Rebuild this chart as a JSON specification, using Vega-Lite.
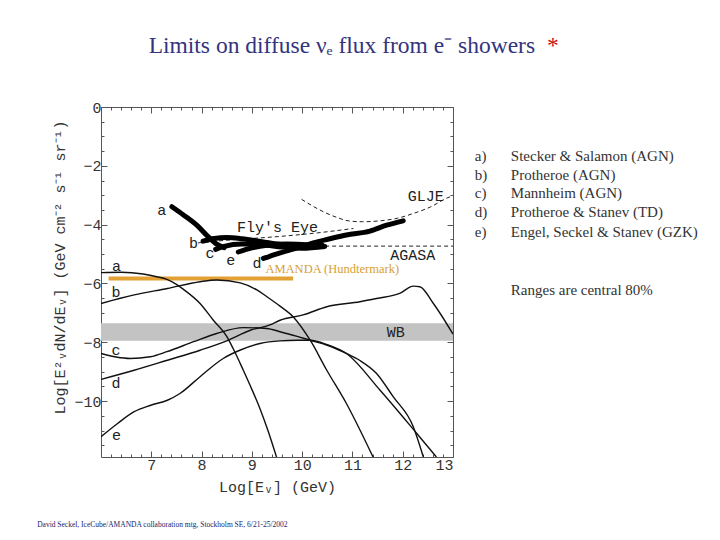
{
  "$schema": "https://vega.github.io/schema/vega-lite/v6.json",
  "width": 352,
  "height": 350,
  "autosize": {"type": "none"},
  "padding": {"left": 101, "top": 107, "right": 267, "bottom": 83},
  "background": "white",
  "config": {
    "view": {"stroke": null},
    "axis": {
      "grid": false,
      "domainColor": "#555555",
      "domainWidth": 1,
      "tickColor": "#555555",
      "tickWidth": 1,
      "labelFont": "Liberation Mono",
      "labelFontSize": 15,
      "labelColor": "#333333",
      "titleFont": "Liberation Mono",
      "titleFontSize": 15,
      "titleFontWeight": "normal",
      "titleColor": "#333333"
    }
  },
  "datasets": {
    "band": [{"x": 6, "x2": 13, "y": -7.35, "y2": -7.95}],
    "amanda": [{"x": 6.15, "y": -5.83}, {"x": 9.82, "y": -5.83}],
    "thin": [
      {"model": "a", "x": 6.0, "y": -5.63}, {"model": "a", "x": 6.4, "y": -5.62}, {"model": "a", "x": 6.84, "y": -5.68}, {"model": "a", "x": 7.11, "y": -5.77}, {"model": "a", "x": 7.31, "y": -5.86}, {"model": "a", "x": 7.5, "y": -6.03}, {"model": "a", "x": 7.64, "y": -6.2}, {"model": "a", "x": 7.97, "y": -6.68}, {"model": "a", "x": 8.23, "y": -7.24}, {"model": "a", "x": 8.5, "y": -7.8}, {"model": "a", "x": 8.63, "y": -8.22}, {"model": "a", "x": 8.83, "y": -8.95}, {"model": "a", "x": 9.0, "y": -9.6}, {"model": "a", "x": 9.16, "y": -10.25}, {"model": "a", "x": 9.32, "y": -11.0}, {"model": "a", "x": 9.49, "y": -11.9},
      {"model": "b", "x": 6.0, "y": -6.68}, {"model": "b", "x": 6.66, "y": -6.39}, {"model": "b", "x": 7.32, "y": -6.17}, {"model": "b", "x": 7.97, "y": -5.94}, {"model": "b", "x": 8.3, "y": -5.88}, {"model": "b", "x": 8.77, "y": -5.98}, {"model": "b", "x": 9.1, "y": -6.22}, {"model": "b", "x": 9.3, "y": -6.45}, {"model": "b", "x": 9.56, "y": -6.77}, {"model": "b", "x": 9.82, "y": -7.13}, {"model": "b", "x": 10.16, "y": -7.93}, {"model": "b", "x": 10.49, "y": -8.95}, {"model": "b", "x": 10.88, "y": -10.08}, {"model": "b", "x": 11.41, "y": -11.9},
      {"model": "c", "x": 6.0, "y": -8.38}, {"model": "c", "x": 6.3, "y": -8.5}, {"model": "c", "x": 6.58, "y": -8.55}, {"model": "c", "x": 6.98, "y": -8.49}, {"model": "c", "x": 7.31, "y": -8.32}, {"model": "c", "x": 7.84, "y": -7.98}, {"model": "c", "x": 8.3, "y": -7.7}, {"model": "c", "x": 8.83, "y": -7.5}, {"model": "c", "x": 9.3, "y": -7.53}, {"model": "c", "x": 9.56, "y": -7.64}, {"model": "c", "x": 9.9, "y": -7.8}, {"model": "c", "x": 10.16, "y": -7.93}, {"model": "c", "x": 10.5, "y": -8.1}, {"model": "c", "x": 10.88, "y": -8.38}, {"model": "c", "x": 11.15, "y": -8.62}, {"model": "c", "x": 11.48, "y": -9.06}, {"model": "c", "x": 11.81, "y": -9.85}, {"model": "c", "x": 12.21, "y": -10.87}, {"model": "c", "x": 12.41, "y": -11.9},
      {"model": "d", "x": 6.0, "y": -9.26}, {"model": "d", "x": 6.66, "y": -8.95}, {"model": "d", "x": 7.32, "y": -8.61}, {"model": "d", "x": 7.97, "y": -8.27}, {"model": "d", "x": 8.5, "y": -7.95}, {"model": "d", "x": 8.97, "y": -7.59}, {"model": "d", "x": 9.36, "y": -7.41}, {"model": "d", "x": 9.56, "y": -7.25}, {"model": "d", "x": 10.02, "y": -7.07}, {"model": "d", "x": 10.49, "y": -6.79}, {"model": "d", "x": 11.15, "y": -6.62}, {"model": "d", "x": 11.48, "y": -6.51}, {"model": "d", "x": 11.94, "y": -6.34}, {"model": "d", "x": 12.21, "y": -6.09}, {"model": "d", "x": 12.34, "y": -6.11}, {"model": "d", "x": 12.61, "y": -6.68}, {"model": "d", "x": 13.0, "y": -7.72},
      {"model": "e", "x": 6.0, "y": -11.21}, {"model": "e", "x": 6.33, "y": -10.76}, {"model": "e", "x": 6.66, "y": -10.36}, {"model": "e", "x": 6.99, "y": -10.14}, {"model": "e", "x": 7.32, "y": -9.97}, {"model": "e", "x": 7.57, "y": -9.74}, {"model": "e", "x": 7.97, "y": -9.17}, {"model": "e", "x": 8.43, "y": -8.55}, {"model": "e", "x": 8.76, "y": -8.27}, {"model": "e", "x": 9.16, "y": -8.04}, {"model": "e", "x": 9.56, "y": -7.95}, {"model": "e", "x": 9.9, "y": -7.93}, {"model": "e", "x": 10.16, "y": -7.93}, {"model": "e", "x": 10.5, "y": -8.08}, {"model": "e", "x": 10.88, "y": -8.38}, {"model": "e", "x": 11.55, "y": -9.63}, {"model": "e", "x": 12.28, "y": -11.1}, {"model": "e", "x": 12.67, "y": -11.9}
    ],
    "thick": [
      {"model": "a", "x": 7.41, "y": -3.39}, {"model": "a", "x": 7.64, "y": -3.67}, {"model": "a", "x": 7.9, "y": -4.01}, {"model": "a", "x": 8.13, "y": -4.41}, {"model": "a", "x": 8.3, "y": -4.66}, {"model": "a", "x": 8.45, "y": -4.78},
      {"model": "b", "x": 8.03, "y": -4.56}, {"model": "b", "x": 8.25, "y": -4.47}, {"model": "b", "x": 8.5, "y": -4.44}, {"model": "b", "x": 8.8, "y": -4.48}, {"model": "b", "x": 9.2, "y": -4.58}, {"model": "b", "x": 9.6, "y": -4.68}, {"model": "b", "x": 10.0, "y": -4.72}, {"model": "b", "x": 10.4, "y": -4.7},
      {"model": "c", "x": 8.28, "y": -4.84}, {"model": "c", "x": 8.45, "y": -4.74}, {"model": "c", "x": 8.8, "y": -4.66}, {"model": "c", "x": 9.2, "y": -4.68}, {"model": "c", "x": 9.6, "y": -4.76}, {"model": "c", "x": 10.0, "y": -4.8}, {"model": "c", "x": 10.45, "y": -4.74},
      {"model": "e", "x": 8.73, "y": -4.93}, {"model": "e", "x": 9.0, "y": -4.79}, {"model": "e", "x": 9.3, "y": -4.7}, {"model": "e", "x": 9.7, "y": -4.66}, {"model": "e", "x": 10.1, "y": -4.68}, {"model": "e", "x": 10.4, "y": -4.72},
      {"model": "d", "x": 9.23, "y": -5.15}, {"model": "d", "x": 9.5, "y": -4.99}, {"model": "d", "x": 9.76, "y": -4.86}, {"model": "d", "x": 10.0, "y": -4.75}, {"model": "d", "x": 10.22, "y": -4.62}, {"model": "d", "x": 10.55, "y": -4.48}, {"model": "d", "x": 10.88, "y": -4.35}, {"model": "d", "x": 11.35, "y": -4.22}, {"model": "d", "x": 11.68, "y": -4.02}, {"model": "d", "x": 12.01, "y": -3.87}
    ],
    "dashed": [
      {"set": "Fly's Eye", "x": 7.93, "y": -4.62}, {"set": "Fly's Eye", "x": 8.5, "y": -4.53}, {"set": "Fly's Eye", "x": 9.56, "y": -4.4}, {"set": "Fly's Eye", "x": 10.3, "y": -4.28}, {"set": "Fly's Eye", "x": 11.02, "y": -4.13},
      {"set": "GLJE", "x": 9.99, "y": -3.14}, {"set": "GLJE", "x": 10.42, "y": -3.56}, {"set": "GLJE", "x": 10.7, "y": -3.76}, {"set": "GLJE", "x": 10.95, "y": -3.88}, {"set": "GLJE", "x": 11.2, "y": -3.9}, {"set": "GLJE", "x": 11.55, "y": -3.87}, {"set": "GLJE", "x": 11.9, "y": -3.78}, {"set": "GLJE", "x": 12.21, "y": -3.62}, {"set": "GLJE", "x": 12.55, "y": -3.4}, {"set": "GLJE", "x": 12.9, "y": -3.08}, {"set": "GLJE", "x": 13.0, "y": -3.02},
      {"set": "AGASA", "x": 9.9, "y": -4.73}, {"set": "AGASA", "x": 13.0, "y": -4.73}
    ],
    "monolabels": [
      {"label": "a", "x": 6.31, "y": -5.41}, {"label": "b", "x": 6.3, "y": -6.28}, {"label": "c", "x": 6.3, "y": -8.27}, {"label": "d", "x": 6.3, "y": -9.38}, {"label": "e", "x": 6.31, "y": -11.16},
      {"label": "a", "x": 7.21, "y": -3.5}, {"label": "b", "x": 7.84, "y": -4.64}, {"label": "c", "x": 8.17, "y": -4.98}, {"label": "e", "x": 8.58, "y": -5.2}, {"label": "d", "x": 9.1, "y": -5.32},
      {"label": "Fly's Eye", "x": 9.51, "y": -4.07}, {"label": "GLJE", "x": 12.46, "y": -3.03}, {"label": "AGASA", "x": 12.2, "y": -5.02}, {"label": "WB", "x": 11.86, "y": -7.65}
    ],
    "legendkeys": [
      {"key": "a)", "name": "Stecker & Salamon (AGN)", "y": -1.67},
      {"key": "b)", "name": "Protheroe (AGN)", "y": -2.31},
      {"key": "c)", "name": "Mannheim (AGN)", "y": -2.93},
      {"key": "d)", "name": "Protheroe & Stanev (TD)", "y": -3.57},
      {"key": "e)", "name": "Engel, Seckel & Stanev (GZK)", "y": -4.25}
    ],
    "notes": [
      {"text": "Ranges are central 80%", "x": 14.15, "y": -6.22}
    ],
    "amandatext": [{"text": "AMANDA (Hundtermark)", "x": 9.27, "y": -5.63}],
    "title": [{"text": "Limits on diffuse νₑ flux from e⁻ showers", "x": 10.79, "y": 1.84}],
    "star": [{"text": "*", "x": 14.87, "y": 1.84}],
    "footer": [{"text": "David Seckel, IceCube/AMANDA collaboration mtg, Stockholm SE, 6/21-25/2002", "x": 4.73, "y": -14.2}]
  },
  "layer": [
    {
      "data": {"name": "band"},
      "mark": {"type": "rect", "color": "#c3c3c3"},
      "encoding": {
        "x": {"field": "x", "type": "quantitative", "scale": {"domain": [6, 13], "nice": false, "zero": false},
              "axis": {"orient": "bottom", "values": [7, 8, 9, 10, 11, 12, 13], "format": "d", "tickSize": -6, "labelPadding": 6, "title": "Log[Eᵥ]   (GeV)", "titlePadding": 7}},
        "x2": {"field": "x2"},
        "y": {"field": "y", "type": "quantitative", "scale": {"domain": [-11.9, 0], "nice": false, "zero": false},
              "axis": {"orient": "left", "values": [0, -2, -4, -6, -8, -10], "format": "d", "tickSize": -6, "labelPadding": 6, "title": "Log[E²ᵥdN/dEᵥ]   (GeV cm⁻² s⁻¹ sr⁻¹)", "titlePadding": 6, "titleY": 160}},
        "y2": {"field": "y2"}
      }
    },
    {
      "data": {"name": "amanda"},
      "mark": {"type": "line", "color": "#e3a035", "strokeWidth": 4},
      "encoding": {
        "x": {"field": "x", "type": "quantitative",
              "axis": {"orient": "bottom", "values": [6.2, 6.4, 6.6, 6.8, 7.2, 7.4, 7.6, 7.8, 8.2, 8.4, 8.6, 8.8, 9.2, 9.4, 9.6, 9.8, 10.2, 10.4, 10.6, 10.8, 11.2, 11.4, 11.6, 11.8, 12.2, 12.4, 12.6, 12.8], "labels": false, "tickSize": -3, "domain": false, "title": null}},
        "y": {"field": "y", "type": "quantitative",
              "axis": {"orient": "left", "values": [-0.5, -1, -1.5, -2.5, -3, -3.5, -4.5, -5, -5.5, -6.5, -7, -7.5, -8.5, -9, -9.5, -10.5, -11, -11.5], "labels": false, "tickSize": -3, "domain": false, "title": null}}
      }
    },
    {
      "data": {"name": "thin"},
      "mark": {"type": "line", "color": "#111111", "strokeWidth": 1.4, "interpolate": "monotone", "clip": true},
      "encoding": {
        "x": {"field": "x", "type": "quantitative",
              "axis": {"orient": "top", "values": [7, 8, 9, 10, 11, 12, 13], "labels": false, "tickSize": -6, "title": null}},
        "y": {"field": "y", "type": "quantitative",
              "axis": {"orient": "right", "values": [0, -2, -4, -6, -8, -10], "labels": false, "tickSize": -6, "title": null}},
        "detail": {"field": "model"}
      }
    },
    {
      "data": {"name": "dashed"},
      "mark": {"type": "line", "color": "#222222", "strokeWidth": 1, "strokeDash": [4, 3], "interpolate": "monotone"},
      "encoding": {
        "x": {"field": "x", "type": "quantitative",
              "axis": {"orient": "top", "values": [6.2, 6.4, 6.6, 6.8, 7.2, 7.4, 7.6, 7.8, 8.2, 8.4, 8.6, 8.8, 9.2, 9.4, 9.6, 9.8, 10.2, 10.4, 10.6, 10.8, 11.2, 11.4, 11.6, 11.8, 12.2, 12.4, 12.6, 12.8], "labels": false, "tickSize": -3, "domain": false, "title": null}},
        "y": {"field": "y", "type": "quantitative",
              "axis": {"orient": "right", "values": [-0.5, -1, -1.5, -2.5, -3, -3.5, -4.5, -5, -5.5, -6.5, -7, -7.5, -8.5, -9, -9.5, -10.5, -11, -11.5], "labels": false, "tickSize": -3, "domain": false, "title": null}},
        "detail": {"field": "set"}
      }
    },
    {
      "data": {"name": "thick"},
      "mark": {"type": "line", "color": "#000000", "strokeWidth": 5, "interpolate": "monotone", "strokeCap": "round"},
      "encoding": {
        "x": {"field": "x", "type": "quantitative", "axis": null},
        "y": {"field": "y", "type": "quantitative", "axis": null},
        "detail": {"field": "model"}
      }
    },
    {
      "data": {"name": "monolabels"},
      "mark": {"type": "text", "font": "Liberation Mono", "fontSize": 15, "color": "#222222", "align": "center", "baseline": "middle"},
      "encoding": {
        "x": {"field": "x", "type": "quantitative", "axis": null},
        "y": {"field": "y", "type": "quantitative", "axis": null},
        "text": {"field": "label"}
      }
    },
    {
      "data": {"name": "amandatext"},
      "mark": {"type": "text", "font": "Liberation Serif", "fontSize": 12.5, "color": "#d9a032", "align": "left", "baseline": "alphabetic"},
      "encoding": {
        "x": {"field": "x", "type": "quantitative", "axis": null},
        "y": {"field": "y", "type": "quantitative", "axis": null},
        "text": {"field": "text"}
      }
    },
    {
      "data": {"name": "legendkeys"},
      "mark": {"type": "text", "font": "Liberation Serif", "fontSize": 15, "color": "#333333", "align": "left", "baseline": "middle"},
      "encoding": {
        "x": {"datum": 13.435, "type": "quantitative", "axis": null},
        "y": {"field": "y", "type": "quantitative", "axis": null},
        "text": {"field": "key"}
      }
    },
    {
      "data": {"name": "legendkeys"},
      "mark": {"type": "text", "font": "Liberation Serif", "fontSize": 15, "color": "#333333", "align": "left", "baseline": "middle"},
      "encoding": {
        "x": {"datum": 14.15, "type": "quantitative", "axis": null},
        "y": {"field": "y", "type": "quantitative", "axis": null},
        "text": {"field": "name"}
      }
    },
    {
      "data": {"name": "notes"},
      "mark": {"type": "text", "font": "Liberation Serif", "fontSize": 15, "color": "#333333", "align": "left", "baseline": "middle"},
      "encoding": {
        "x": {"field": "x", "type": "quantitative", "axis": null},
        "y": {"field": "y", "type": "quantitative", "axis": null},
        "text": {"field": "text"}
      }
    },
    {
      "data": {"name": "title"},
      "mark": {"type": "text", "font": "Liberation Serif", "fontSize": 23.5, "color": "#333380", "align": "center", "baseline": "alphabetic"},
      "encoding": {
        "x": {"field": "x", "type": "quantitative", "axis": null},
        "y": {"field": "y", "type": "quantitative", "axis": null},
        "text": {"field": "text"}
      }
    },
    {
      "data": {"name": "star"},
      "mark": {"type": "text", "font": "Liberation Serif", "fontSize": 23.5, "color": "#cc1111", "align": "left", "baseline": "alphabetic"},
      "encoding": {
        "x": {"field": "x", "type": "quantitative", "axis": null},
        "y": {"field": "y", "type": "quantitative", "axis": null},
        "text": {"field": "text"}
      }
    },
    {
      "data": {"name": "footer"},
      "mark": {"type": "text", "font": "Liberation Serif", "fontSize": 7.5, "color": "#222266", "align": "left", "baseline": "middle"},
      "encoding": {
        "x": {"field": "x", "type": "quantitative", "axis": null},
        "y": {"field": "y", "type": "quantitative", "axis": null},
        "text": {"field": "text"}
      }
    }
  ],
  "resolve": {"axis": {"x": "independent", "y": "independent"}}
}
